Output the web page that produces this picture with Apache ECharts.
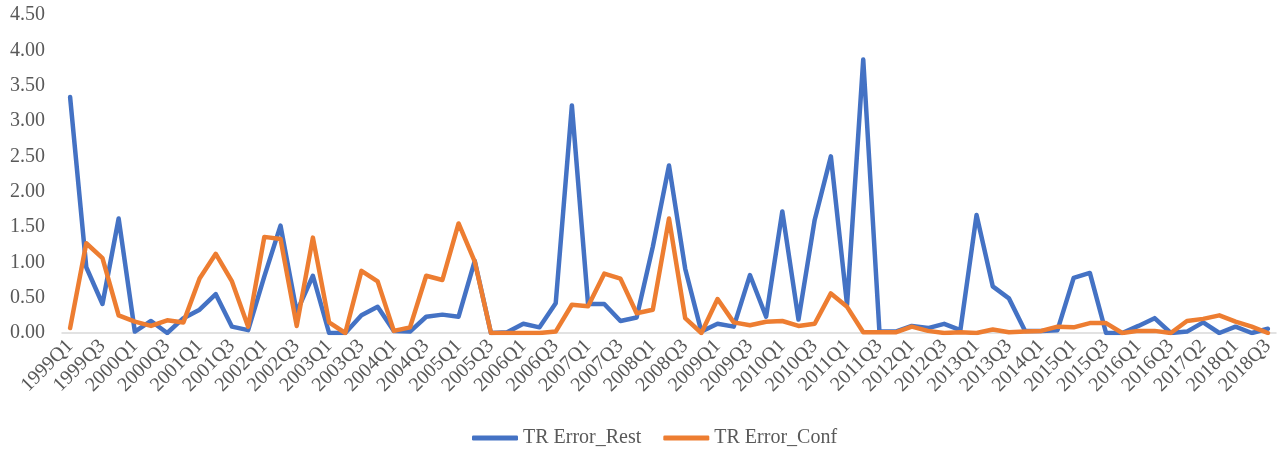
<!DOCTYPE html>
<html>
<head>
<meta charset="utf-8">
<script src="https://cdn.jsdelivr.net/npm/echarts@6/dist/echarts.min.js"></script>
<style>
  html, body { margin: 0; padding: 0; background: #fff; }
  #chart { width: 1281px; height: 452px; }
</style>
</head>
<body>
<div id="chart"></div>
<script>
// Quarterly periods (a few quarters are absent from the sample)
const quarters = [
  '1999Q1','1999Q2','1999Q3','1999Q4','2000Q1','2000Q2','2000Q3','2000Q4',
  '2001Q1','2001Q2','2001Q3','2001Q4','2002Q1','2002Q2','2002Q3','2002Q4',
  '2003Q1','2003Q2','2003Q3','2003Q4','2004Q1','2004Q2','2004Q3','2004Q4',
  '2005Q1','2005Q2','2005Q3','2005Q4','2006Q1','2006Q2','2006Q3','2006Q4',
  '2007Q1','2007Q2','2007Q3','2007Q4','2008Q1','2008Q2','2008Q3','2008Q4',
  '2009Q1','2009Q2','2009Q3','2009Q4','2010Q1','2010Q2','2010Q3','2010Q4',
  '2011Q1','2011Q2','2011Q3','2011Q4','2012Q1','2012Q2','2012Q3','2012Q4',
  '2013Q1','2013Q2','2013Q3','2013Q4','2014Q1','2014Q3','2015Q1','2015Q2',
  '2015Q3','2015Q4','2016Q1','2016Q2','2016Q3','2016Q4','2017Q2','2017Q4',
  '2018Q1','2018Q2','2018Q3'
];

const errorRest = [
  3.34, 0.93, 0.41, 1.62, 0.02, 0.17, 0.00, 0.21, 0.33, 0.55,
  0.09, 0.04, 0.80, 1.52, 0.30, 0.81, 0.00, 0.00, 0.25, 0.37,
  0.03, 0.02, 0.23, 0.26, 0.23, 1.02, 0.00, 0.01, 0.13, 0.08,
  0.42, 3.22, 0.41, 0.41, 0.17, 0.22, 1.22, 2.37, 0.91, 0.02,
  0.13, 0.09, 0.82, 0.23, 1.72, 0.19, 1.60, 2.50, 0.40, 3.87,
  0.02, 0.02, 0.10, 0.07, 0.13, 0.04, 1.67, 0.66, 0.49, 0.03,
  0.03, 0.04, 0.78, 0.85, 0.00, 0.00, 0.10, 0.21, 0.00, 0.02,
  0.15, 0.00, 0.09, 0.00, 0.06
];

const errorConf = [
  0.07, 1.27, 1.06, 0.25, 0.16, 0.10, 0.18, 0.15, 0.77, 1.12,
  0.73, 0.09, 1.36, 1.33, 0.10, 1.35, 0.15, 0.00, 0.88, 0.73,
  0.03, 0.08, 0.81, 0.75, 1.55, 1.01, 0.00, 0.00, 0.00, 0.00,
  0.02, 0.40, 0.38, 0.84, 0.77, 0.28, 0.33, 1.62, 0.21, 0.00,
  0.48, 0.15, 0.11, 0.16, 0.17, 0.10, 0.13, 0.56, 0.37, 0.01,
  0.01, 0.01, 0.09, 0.03, 0.00, 0.01, 0.00, 0.05, 0.01, 0.02,
  0.03, 0.09, 0.08, 0.14, 0.14, 0.00, 0.03, 0.03, 0.00, 0.17,
  0.20, 0.25, 0.16, 0.09, 0.00
];

const seriesNames = ['TR Error_Rest', 'TR Error_Conf'];
const colors = ['#4472C4', '#ED7D31'];

const font = 'Liberation Serif, Times New Roman, serif';
const chart = echarts.init(document.getElementById('chart'), null, { renderer: 'canvas' });

chart.setOption({
  animation: false,
  color: colors,
  grid: { left: 62, right: 5, top: 15, bottom: 119, containLabel: false },
  legend: {
    top: 428,
    left: 472,
    icon: 'roundRect',
    itemWidth: 46,
    itemHeight: 5,
    itemGap: 22,
    padding: 0,
    textStyle: { fontFamily: font, fontSize: 20, color: '#595959' },
    data: seriesNames
  },
  xAxis: {
    type: 'category',
    data: quarters,
    boundaryGap: true,
    axisLine: { lineStyle: { color: '#D9D9D9', width: 1.5 } },
    axisTick: { show: false },
    axisLabel: {
      interval: 1,
      rotate: 45,
      margin: 10,
      fontFamily: font,
      fontSize: 20,
      color: '#595959'
    }
  },
  yAxis: {
    type: 'value',
    min: 0,
    max: 4.5,
    interval: 0.5,
    axisLine: { show: false },
    axisTick: { show: false },
    splitLine: { show: false },
    axisLabel: {
      margin: 17,
      fontFamily: font,
      fontSize: 20,
      color: '#595959',
      formatter: v => v.toFixed(2)
    }
  },
  series: [
    {
      name: seriesNames[0],
      type: 'line',
      data: errorRest,
      showSymbol: false,
      symbol: 'none',
      lineStyle: { width: 4.5, color: colors[0], cap: 'round', join: 'round' }
    },
    {
      name: seriesNames[1],
      type: 'line',
      data: errorConf,
      showSymbol: false,
      symbol: 'none',
      lineStyle: { width: 4.5, color: colors[1], cap: 'round', join: 'round' }
    }
  ]
});
</script>
</body>
</html>
